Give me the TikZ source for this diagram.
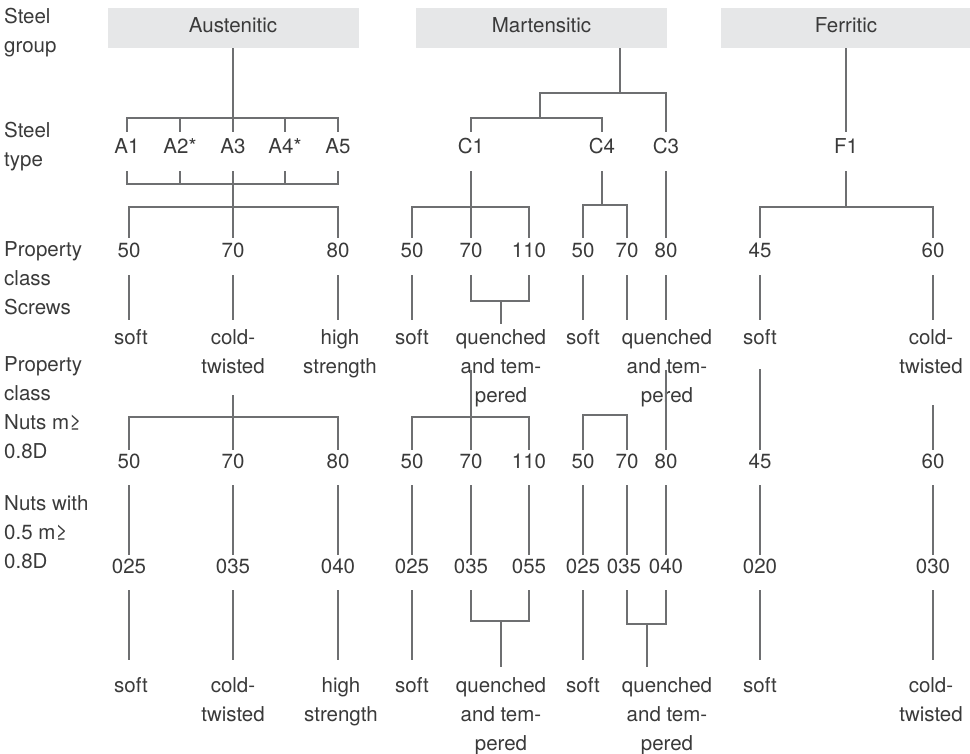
\documentclass[tikz,border=0pt]{standalone}
\usepackage{fontspec}
\setmainfont{TeX Gyre Heros}
\definecolor{txtc}{HTML}{3A3A3A}
\definecolor{linec}{HTML}{6E6F71}
\definecolor{boxc}{HTML}{E6E7E8}
\begin{document}
\begin{tikzpicture}[x=1pt, y=-1pt, font=\fontsize{20.5}{29}\selectfont,
  lbl/.style={text=txtc, inner sep=0pt, anchor=base},
  typ/.style={lbl, text height=22pt, text depth=17pt},
  cls/.style={lbl, text height=20pt, text depth=17pt},
  nut/.style={lbl, text height=18pt, text depth=17pt},
  prop/.style={text=txtc, align=center, inner xsep=0pt, inner ysep=9pt, anchor=north},
  bprop/.style={prop, inner ysep=17pt},
  rowlbl/.style={text=txtc, inner sep=0pt, anchor=north west, align=left},
  grp/.style={fill=boxc, text=txtc, inner sep=0pt, anchor=north, minimum height=40pt, text height=15pt, text depth=7pt},
  ln/.style={draw=linec, line width=2pt}]
\useasboundingbox (0,0) rectangle (970,754);
% row labels
\node[rowlbl] (lgroup) at (4,8) {Steel\\group};
\node[rowlbl] (ltype) at (4,122) {Steel\\type};
\node[rowlbl] (lscrew) at (4,241) {Property\\class\\Screws};
\node[rowlbl] (lnut) at (4,356) {Property\\class\\Nuts m≥\\0.8D};
\node[rowlbl] (lthin) at (4,495) {Nuts with\\0.5 m≥\\0.8D};
% steel groups
\node[grp, minimum width=251pt] (aus) at (233,8) {Austenitic};
\node[grp, minimum width=251pt] (mar) at (541.5,8) {Martensitic};
\node[grp, minimum width=250pt] (fer) at (846,8) {Ferritic};
% steel types
\foreach \n/\x/\t in {a1/127/A1, a2/180/A2*, a3/233/A3, a4/285/A4*, a5/338/A5, c1/471/C1, c4/602/C4, c3/666/C3, f1/846/F1}
  \node[typ] (\n) at (\x,154) {\t};
% property classes, screws
\foreach \n/\x/\t in {as50/129/50, as70/233/70, as80/338/80, c1s50/412/50, c1s70/471/70, c1s110/529/110, c4s50/583/50, c4s70/627/70, c3s80/666/80, fs45/760/45, fs60/933/60}
  \node[cls] (\n) at (\x,258) {\t};
\foreach \n/\x/\t in {as50p/131/soft, as70p/233/cold-\\twisted, as80p/340/high\\strength, c1s50p/412/soft, c1q/501/quenched\\and tem-\\pered, c4s50p/583/soft, c4q/667/quenched\\and tem-\\pered, fs45p/760/soft, fs60p/931/cold-\\twisted}
  \node[prop] (\n) at (\x,320) {\t};
% property classes, nuts
\foreach \n/\x/\t in {an50/129/50, an70/233/70, an80/338/80, c1n50/412/50, c1n70/471/70, c1n110/529/110, c4n50/583/50, c4n70/627/70, c3n80/666/80, fn45/760/45, fn60/933/60}
  \node[nut] (\n) at (\x,468) {\t};
\foreach \n/\x/\t in {at025/129/025, at035/233/035, at040/338/040, c1t025/412/025, c1t035/471/035, c1t055/529/055, c4t025/583/025, c4t035/624/035, c3t040/666/040, ft020/760/020, ft030/933/030}
  \node[nut] (\n) at (\x,573) {\t};
\foreach \n/\x/\t in {ab1/131/soft, ab2/233/cold-\\twisted, ab3/341/high\\strength, c1b1/412/soft, c1bq/501/quenched\\and tem-\\pered, c4b1/583/soft, c4bq/667/quenched\\and tem-\\pered, fb1/760/soft, fb2/931/cold-\\twisted}
  \node[bprop] (\n) at (\x,660) {\t};
% austenitic
\coordinate (abar1) at (233,118);
\coordinate (abar2) at (233,184);
\coordinate (abar3) at (233,207);
\coordinate (abar4) at (233,417);
\coordinate (atw) at (233,395);
\draw[ln] (aus.south) -- (a3.north);
\draw[ln] (a1.north) |- (abar1) -| (a5.north);
\draw[ln] (a1.south) |- (abar2) -| (a5.south);
\foreach \n in {a2,a4} {
  \draw[ln] (\n.north) -- (\n.north |- abar1);
  \draw[ln] (\n.south) -- (\n.south |- abar2);
}
\draw[ln] (a3.south) -- (as70.north);
\draw[ln] (as50.north) |- (abar3) -| (as80.north);
\draw[ln] (atw) -- (an70.north);
\draw[ln] (an50.north) |- (abar4) -| (an80.north);
% martensitic
\coordinate (mbar1) at (620,93);
\coordinate (mbar2) at (540,118);
\coordinate (c1bar) at (471,207);
\coordinate (c4bar) at (602,205);
\draw[ln] (mar.south -| mbar1) -- (mbar1);
\draw[ln] (mbar2) |- (mbar1) -| (c3.north);
\draw[ln] (c1.north) |- (mbar2) -| (c4.north);
\draw[ln] (c1.south) -- (c1s70.north);
\draw[ln] (c1s50.north) |- (c1bar) -| (c1s110.north);
\draw[ln] (c4.south) -- (c4bar);
\draw[ln] (c4s50.north) |- (c4bar) -| (c4s70.north);
\draw[ln] (c3.south) -- (c3s80.north);
\coordinate (c1qbar) at (501,301);
\draw[ln] (c1s70.south) |- (c1qbar) -| (c1s110.south);
\draw[ln, shorten >=-4pt] (c1qbar) -- (c1qbar |- c1q.north);
\coordinate (c1qa) at (471,370);
\coordinate (c1nbar) at (471,417);
\draw[ln] (c1qa) -- (c1n70.north);
\draw[ln] (c1n50.north) |- (c1nbar) -| (c1n110.north);
\coordinate (c4nbar) at (605,415);
\draw[ln] (c4n50.north) |- (c4nbar) -| (c4n70.north);
\coordinate (c4qa) at (666,370);
\draw[ln] (c4qa) -- (c3n80.north);
\coordinate (c1tbar) at (501,621);
\draw[ln] (c1t035.south) |- (c1tbar) -| (c1t055.south);
\draw[ln, shorten >=-7pt] (c1tbar) -- (c1tbar |- c1bq.north);
\coordinate (c4tbar) at (647,624);
\draw[ln] (c4t035.south -| c4n70) |- (c4tbar) -| (c3t040.south);
\draw[ln, shorten >=-7pt] (c4tbar) -- (c4tbar |- c4bq.north);
% ferritic
\coordinate (fbar) at (846,207);
\coordinate (fsa) at (760,369);
\coordinate (fta) at (933,405);
\draw[ln] (fer.south) -- (f1.north);
\draw[ln] (f1.south) -- (fbar);
\draw[ln] (fs45.north) |- (fbar) -| (fs60.north);
\draw[ln] (fsa) -- (fn45.north);
\draw[ln] (fta) -- (fn60.north);
% straight links
\foreach \c/\p in {as50/as50p, as70/as70p, as80/as80p, c1s50/c1s50p, c4s50/c4s50p, c4s70/c4q, c3s80/c4q, fs45/fs45p, fs60/fs60p}
  \draw[ln] (\c.south) -- (\c.south |- \p.north);
\foreach \n/\t in {an50/at025, an70/at035, an80/at040, c1n50/c1t025, c1n70/c1t035, c1n110/c1t055, c4n50/c4t025, c4n70/c4t035, c3n80/c3t040, fn45/ft020, fn60/ft030}
  \draw[ln] (\n.south) -- (\n.south |- \t.north);
\foreach \t/\p in {at025/ab1, at035/ab2, at040/ab3, c1t025/c1b1, c4t025/c4b1, ft020/fb1, ft030/fb2}
  \draw[ln] (\t.south) -- (\t.south |- \p.north);
\end{tikzpicture}
\end{document}
